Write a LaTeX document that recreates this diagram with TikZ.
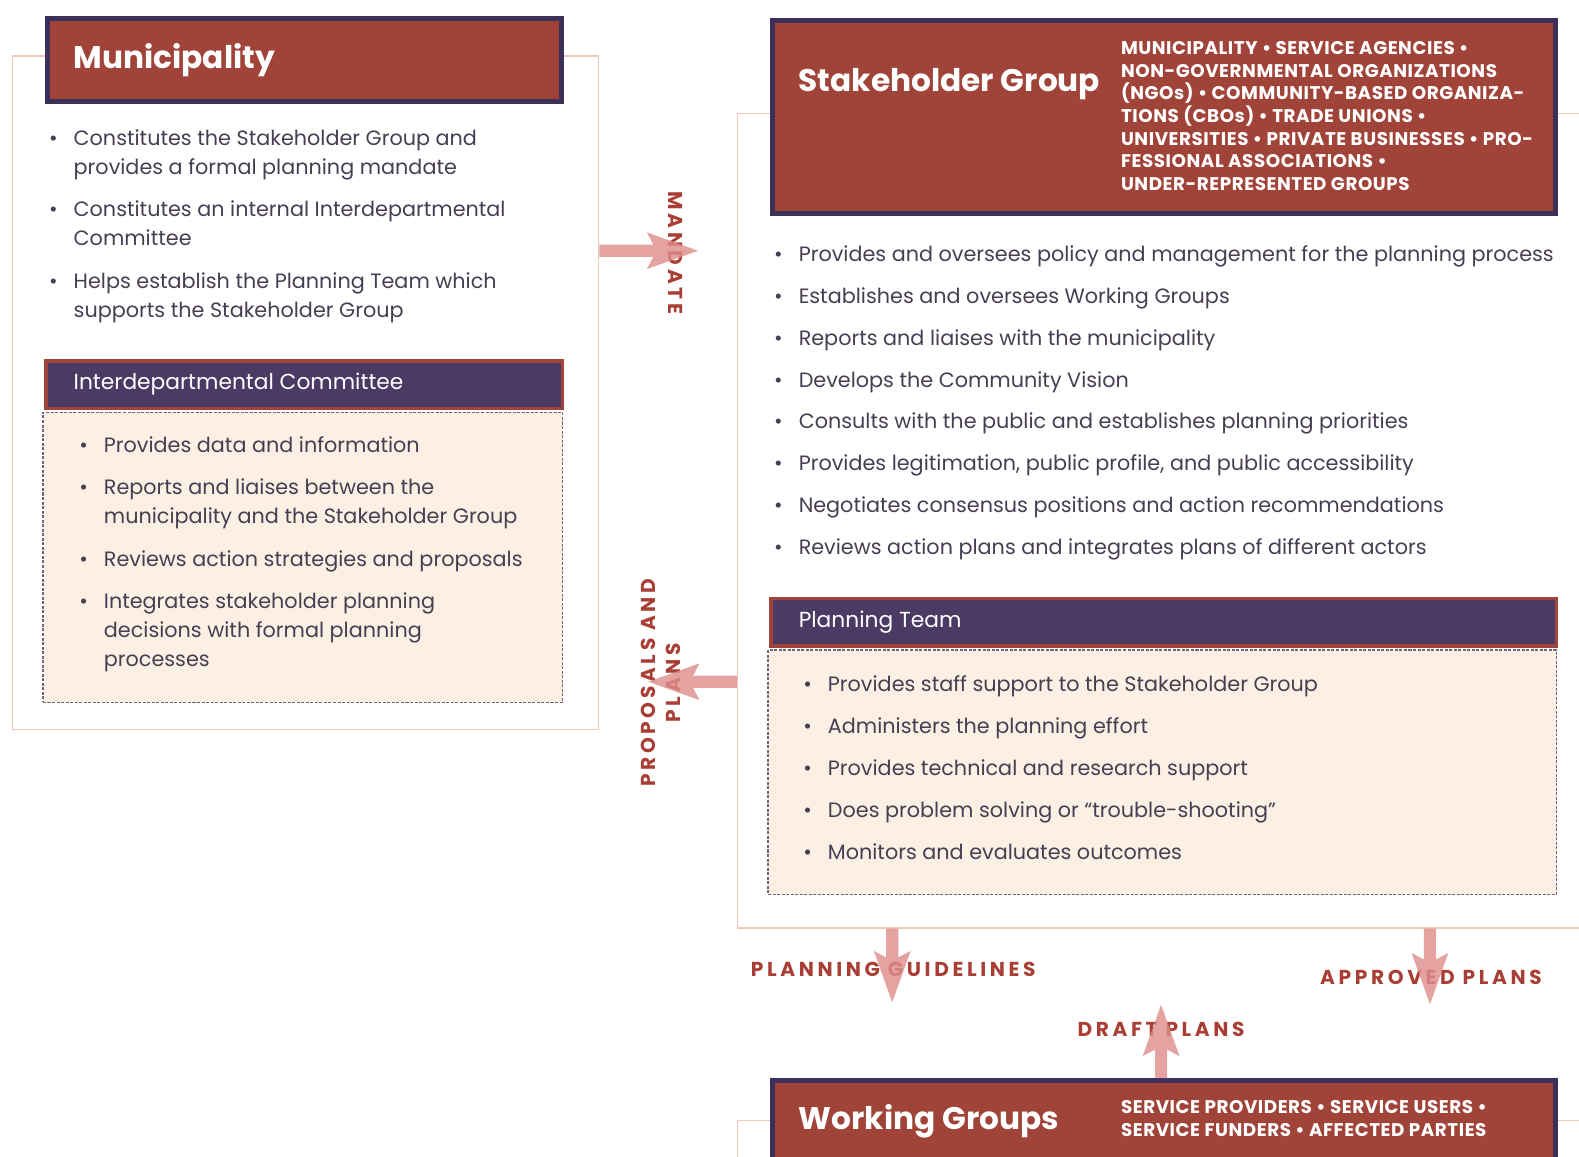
\documentclass[tikz,border=0pt]{standalone}
\usepackage{fontspec}
\setmainfont{Poppins}
\newfontfamily\membersfont{Poppins}[LetterSpace=3]
\newfontfamily\spacedfont{Poppins}[LetterSpace=18]
\usepackage{xcolor}
\usepackage{tikz}
\usetikzlibrary{positioning,arrows.meta}

\definecolor{hdrred}{RGB}{160,68,58}
\definecolor{hdrpurple}{RGB}{60,48,88}
\definecolor{subpurple}{RGB}{74,58,100}
\definecolor{peach}{RGB}{252,240,228}
\definecolor{framepink}{RGB}{238,200,188}
\definecolor{flowpink}{RGB}{222,142,140}
\definecolor{labelred}{RGB}{168,62,52}
\definecolor{bodygray}{RGB}{72,62,82}
\definecolor{dashgray}{RGB}{112,102,122}

\newcommand{\bul}{\strut\llap{\textbullet\hspace{16pt}}}

\tikzset{
  outerframe/.style={draw=framepink, line width=1.2pt, inner sep=0pt, anchor=north west},
  mainhdr/.style={draw=hdrpurple, fill=hdrred, line width=5pt, inner sep=0pt, anchor=north west},
  subhdr/.style={draw=hdrred, fill=subpurple, line width=3.5pt, inner sep=0pt, anchor=north west},
  bodybox/.style={draw=dashgray, fill=peach, line width=1.3pt, dash pattern=on 3pt off 1.5pt, inner sep=0pt},
  hdrtitle/.style={text=white, font=\fontsize{31}{36}\selectfont\bfseries, anchor=base west, inner sep=0pt},
  subtitle/.style={text=white, font=\fontsize{21.6}{26}\selectfont, anchor=base west, inner sep=0pt},
  members/.style={text=white, font=\membersfont\fontsize{18.2}{22.5}\selectfont\bfseries, align=left, anchor=base west, inner sep=0pt},
  item/.style={text=bodygray, font=\fontsize{20.6}{29}\selectfont, align=left, anchor=north west, inner sep=0pt},
  flow/.style={draw=flowpink, line width=12pt, -{Stealth[width=34pt,length=50pt,inset=8pt]}},
  flowlabel/.style={text=labelred, font=\spacedfont\fontsize{20}{25}\selectfont\bfseries, inner sep=0pt}
}

\begin{document}
\begin{tikzpicture}[x=1pt, y=-1pt]
            \useasboundingbox (0,0) rectangle (1568,1148);

            \node (munframe) [outerframe, minimum width=582pt, minimum height=669pt] at (12,55) {};
            \node (sgframe) [outerframe, minimum width=900pt, minimum height=809pt] at (732,112) {};
            \node (wgframe) [outerframe, minimum width=900pt, minimum height=200pt] at (732,1112) {};

            \node (munhdr) [mainhdr, minimum width=511pt, minimum height=83pt] at (44.5,15.5) {};
            \node (ichdr) [subhdr, minimum width=513pt, minimum height=47pt] at (43.7,356.7) {};
            \node (icbody) [bodybox, minimum width=516pt, minimum height=288pt, below right=1.7pt and -1.7pt of ichdr.south west] {};
            \node (sghdr) [mainhdr, minimum width=778pt, minimum height=192pt] at (764.5,17.5) {};
            \node (pthdr) [subhdr, minimum width=780pt, minimum height=47pt] at (763.7,592.7) {};
            \node (ptbody) [bodybox, minimum width=783pt, minimum height=243pt, below right=1.7pt and -1.7pt of pthdr.south west] {};
            \node (wghdr) [mainhdr, minimum width=778pt, minimum height=120pt] at (764.5,1070.5) {};

            \node (muntitle) [hdrtitle] at (73,68) {Municipality};
            \node (sgtitle) [hdrtitle] at (793,91) {Stakeholder Group};
            \node (wgtitle) [hdrtitle] at (793,1122) {Working Groups};
            \node (ictitle) [subtitle] at (73,387) {Interdepartmental Committee};
            \node (pttitle) [subtitle] at (793,623) {Planning Team};

            \node (sgmembers) [members] at (1113,189) {MUNICIPALITY • SERVICE AGENCIES •\\
              NON-GOVERNMENTAL ORGANIZATIONS\\
              (NGOs) • COMMUNITY-BASED ORGANIZA-\\
              TIONS (CBOs) • TRADE UNIONS •\\
              UNIVERSITIES • PRIVATE BUSINESSES • PRO-\\
              FESSIONAL ASSOCIATIONS •\\
              UNDER-REPRESENTED GROUPS};
            \node (wgmembers) [members] at (1113,1128.5) {SERVICE PROVIDERS • SERVICE USERS •\\
              SERVICE FUNDERS • AFFECTED PARTIES};

            \foreach \yy/\txt [count=\i] in {144/{Constitutes the Stakeholder Group and\\provides a formal planning mandate},
                215/{Constitutes an internal Interdepartmental\\Committee},
                286/{Helps establish the Planning Team which\\supports the Stakeholder Group}}
              \node (mun\i) [item] at (73,\yy-20.3) {\bul\txt};

            \foreach \yy/\txt [count=\i] in {449/{Provides data and information},
                491/{Reports and liaises between the\\municipality and the Stakeholder Group},
                562/{Reviews action strategies and proposals},
                604/{Integrates stakeholder planning\\decisions with formal planning\\processes}}
              \node (ic\i) [item] at (103,\yy-20.3) {\bul\txt};

            \foreach \txt [count=\i] in {Provides and oversees policy and management for the planning process,
                Establishes and oversees Working Groups,
                Reports and liaises with the municipality,
                Develops the Community Vision,
                Consults with the public and establishes planning priorities,
                {Provides legitimation, public profile, and public accessibility},
                Negotiates consensus positions and action recommendations,
                Reviews action plans and integrates plans of different actors}
              \node (sg\i) [item] at (793,197+41.7*\i) {\bul\txt};

            \foreach \txt [count=\i] in {Provides staff support to the Stakeholder Group,
                Administers the planning effort,
                Provides technical and research support,
                Does problem solving or ``trouble-shooting'',
                Monitors and evaluates outcomes}
              \node (pt\i) [item] at (822,624+41.75*\i) {\bul\txt};

            \node (mandlabel) [flowlabel, rotate=-90] at (671,251) {MANDATE};
            \node (proplabel) [flowlabel, rotate=90, align=center] at (656,678) {PROPOSALS AND\\PLANS};
            \node (guidelabel) [flowlabel] at (887,963) {PLANNING GUIDELINES};
            \node (approvlabel) [flowlabel] at (1421,971) {APPROVED PLANS};
            \node (draftlabel) [flowlabel] at (1153,1022) {DRAFT PLANS};

            \coordinate (mandtip) at (694,249);
            \coordinate (proptip) at (643,677);
            \coordinate (guidetip) at (886,996);
            \coordinate (approvtip) at (1420,998);
            \coordinate (drafttip) at (1153,997);

            \begin{scope}[transparency group, opacity=0.82]
            \draw[flow] (munframe.east |- mandtip) -- (mandtip);
            \draw[flow] (sgframe.west |- proptip) -- (proptip);
            \draw[flow] (sgframe.south -| guidetip) -- (guidetip);
            \draw[flow] (sgframe.south -| approvtip) -- (approvtip);
            \draw[flow] (wghdr.north -| drafttip) -- (drafttip);
            \end{scope}
        \end{tikzpicture}
\end{document}
